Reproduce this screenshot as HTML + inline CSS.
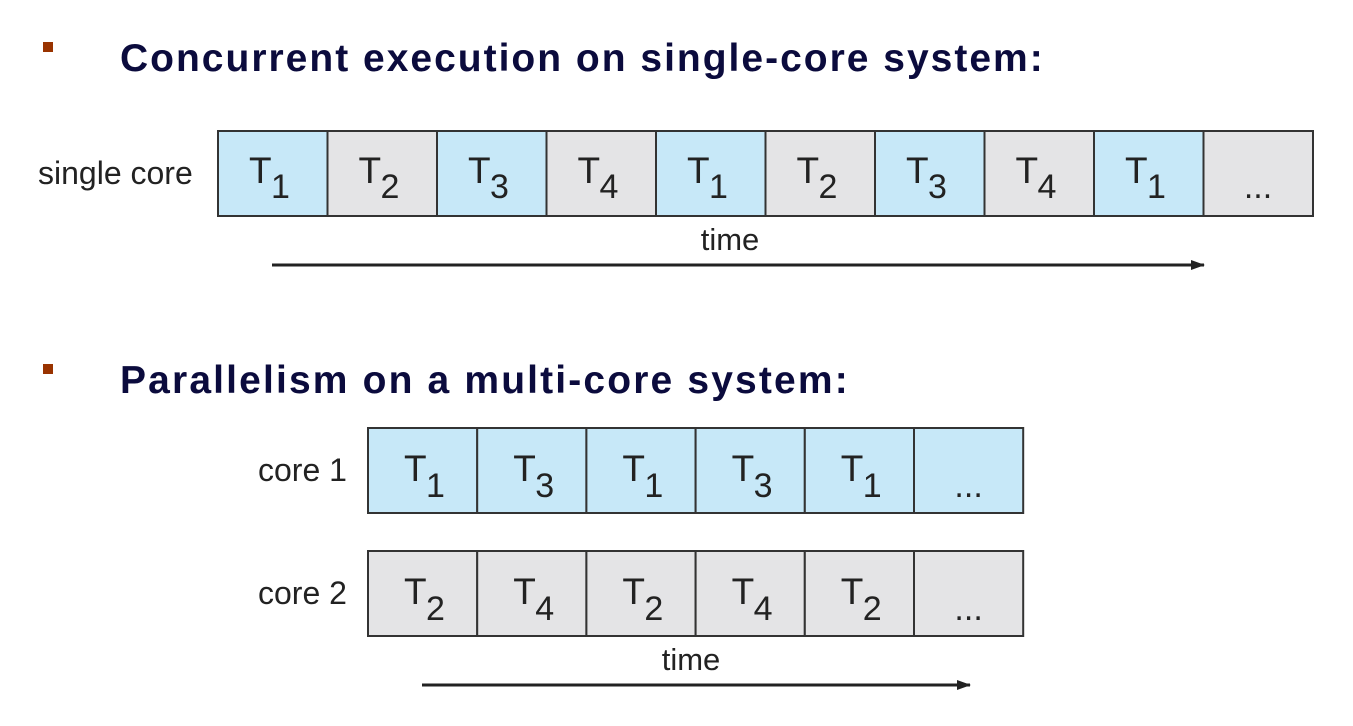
<!DOCTYPE html>
<html><head><meta charset="utf-8"><style>
html,body{margin:0;padding:0;background:#fff;}
svg{display:block;}
text{font-family:"Liberation Sans",sans-serif;}
</style></head><body>
<svg width="1353" height="726" viewBox="0 0 1353 726" xmlns="http://www.w3.org/2000/svg">
<defs><marker id="ah" markerWidth="14" markerHeight="10" refX="13" refY="5" orient="auto" markerUnits="userSpaceOnUse"><path d="M0,0 L14,5 L0,10 Z" fill="#222"/></marker></defs>
<rect x="43" y="42" width="10" height="10" fill="#993300"/>
<text x="120" y="71" font-size="39" font-weight="bold" fill="#0b0b3d" letter-spacing="2.0">Concurrent execution on single-core system:</text>
<rect x="43" y="364" width="10" height="10" fill="#993300"/>
<text x="120" y="393" font-size="39" font-weight="bold" fill="#0b0b3d" letter-spacing="2.15">Parallelism on a multi-core system:</text>
<text x="38" y="184" font-size="32" fill="#222">single core</text>
<text x="258" y="481" font-size="32" fill="#222">core 1</text>
<text x="258" y="604" font-size="32" fill="#222">core 2</text>
<g stroke="#333" stroke-width="2">
<rect x="218" y="131" width="109.5" height="85" fill="#c7e8f8"/>
<rect x="327.5" y="131" width="109.5" height="85" fill="#e4e4e6"/>
<rect x="437" y="131" width="109.5" height="85" fill="#c7e8f8"/>
<rect x="546.5" y="131" width="109.5" height="85" fill="#e4e4e6"/>
<rect x="656" y="131" width="109.5" height="85" fill="#c7e8f8"/>
<rect x="765.5" y="131" width="109.5" height="85" fill="#e4e4e6"/>
<rect x="875" y="131" width="109.5" height="85" fill="#c7e8f8"/>
<rect x="984.5" y="131" width="109.5" height="85" fill="#e4e4e6"/>
<rect x="1094" y="131" width="109.5" height="85" fill="#c7e8f8"/>
<rect x="1203.5" y="131" width="109.5" height="85" fill="#e4e4e6"/>
<rect x="368" y="428" width="109.2" height="85" fill="#c7e8f8"/>
<rect x="477.2" y="428" width="109.2" height="85" fill="#c7e8f8"/>
<rect x="586.4" y="428" width="109.2" height="85" fill="#c7e8f8"/>
<rect x="695.6" y="428" width="109.2" height="85" fill="#c7e8f8"/>
<rect x="804.8" y="428" width="109.2" height="85" fill="#c7e8f8"/>
<rect x="914" y="428" width="109.2" height="85" fill="#c7e8f8"/>
<rect x="368" y="551" width="109.2" height="85" fill="#e4e4e6"/>
<rect x="477.2" y="551" width="109.2" height="85" fill="#e4e4e6"/>
<rect x="586.4" y="551" width="109.2" height="85" fill="#e4e4e6"/>
<rect x="695.6" y="551" width="109.2" height="85" fill="#e4e4e6"/>
<rect x="804.8" y="551" width="109.2" height="85" fill="#e4e4e6"/>
<rect x="914" y="551" width="109.2" height="85" fill="#e4e4e6"/>
</g>
<g font-size="37" fill="#222">
<text x="249" y="183">T</text><text x="271" y="198" font-size="34">1</text>
<text x="358.5" y="183">T</text><text x="380.5" y="198" font-size="34">2</text>
<text x="468" y="183">T</text><text x="490" y="198" font-size="34">3</text>
<text x="577.5" y="183">T</text><text x="599.5" y="198" font-size="34">4</text>
<text x="687" y="183">T</text><text x="709" y="198" font-size="34">1</text>
<text x="796.5" y="183">T</text><text x="818.5" y="198" font-size="34">2</text>
<text x="906" y="183">T</text><text x="928" y="198" font-size="34">3</text>
<text x="1015.5" y="183">T</text><text x="1037.5" y="198" font-size="34">4</text>
<text x="1125" y="183">T</text><text x="1147" y="198" font-size="34">1</text>
<text x="1258" y="198" font-size="34" text-anchor="middle">...</text>

<text x="404" y="481">T</text><text x="426" y="497" font-size="34">1</text>
<text x="513.2" y="481">T</text><text x="535.2" y="497" font-size="34">3</text>
<text x="622.4" y="481">T</text><text x="644.4" y="497" font-size="34">1</text>
<text x="731.6" y="481">T</text><text x="753.6" y="497" font-size="34">3</text>
<text x="840.8" y="481">T</text><text x="862.8" y="497" font-size="34">1</text>
<text x="968.6" y="497" font-size="34" text-anchor="middle">...</text>

<text x="404" y="604">T</text><text x="426" y="620" font-size="34">2</text>
<text x="513.2" y="604">T</text><text x="535.2" y="620" font-size="34">4</text>
<text x="622.4" y="604">T</text><text x="644.4" y="620" font-size="34">2</text>
<text x="731.6" y="604">T</text><text x="753.6" y="620" font-size="34">4</text>
<text x="840.8" y="604">T</text><text x="862.8" y="620" font-size="34">2</text>
<text x="968.6" y="620" font-size="34" text-anchor="middle">...</text>
</g>
<text x="730" y="250" font-size="31" fill="#222" text-anchor="middle">time</text>
<line x1="272" y1="265" x2="1204" y2="265" stroke="#222" stroke-width="3" marker-end="url(#ah)"/>
<text x="691" y="670" font-size="31" fill="#222" text-anchor="middle">time</text>
<line x1="422" y1="685" x2="970" y2="685" stroke="#222" stroke-width="3" marker-end="url(#ah)"/>
</svg>
</body></html>
